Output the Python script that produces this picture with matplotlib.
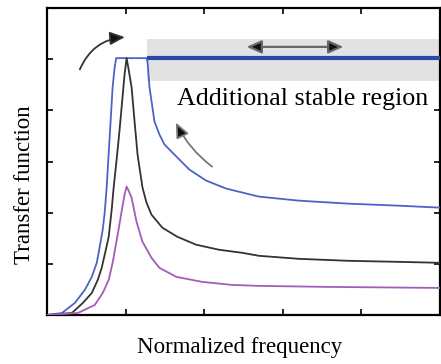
import matplotlib
matplotlib.use("Agg")
import matplotlib.pyplot as plt
from matplotlib.patches import FancyArrowPatch

# ---- data ----
blue_x = [0.0, 0.190, 0.354, 0.481, 0.570, 0.633, 0.671, 0.709, 0.734, 0.759, 0.778, 0.797, 0.816, 0.835, 0.861, 0.880,
          1.266, 1.278, 1.304, 1.367, 1.430, 1.494, 1.658, 1.810, 2.025, 2.278, 2.696, 3.203, 3.835, 4.468, 5.0]
blue_y = [0.0, 0.039, 0.235, 0.490, 0.745, 1.020, 1.333, 1.667, 2.000, 2.490, 2.980, 3.471, 3.961, 4.451, 4.843, 5.020,
          5.020, 4.961, 4.451, 3.784, 3.529, 3.333, 3.078, 2.843, 2.627, 2.471, 2.314, 2.235, 2.176, 2.137, 2.098]

black_x = [0.0, 0.316, 0.456, 0.570, 0.646, 0.696, 0.734, 0.785, 0.823, 0.848, 0.886, 0.924, 0.962, 0.987, 1.013,
           1.038, 1.076, 1.114, 1.152, 1.215, 1.266, 1.329, 1.468, 1.658, 1.899, 2.190, 2.481, 2.696, 3.203, 3.835, 4.468, 5.0]
black_y = [0.0, 0.039, 0.235, 0.431, 0.686, 0.922, 1.176, 1.529, 2.059, 2.490, 3.039, 3.627, 4.275, 4.706, 5.020,
           4.804, 4.451, 3.784, 3.137, 2.490, 2.196, 1.961, 1.706, 1.529, 1.373, 1.275, 1.216, 1.157, 1.098, 1.059, 1.039, 1.020]

purple_x = [0.0, 0.392, 0.608, 0.709, 0.785, 0.835, 0.899, 0.949, 0.987, 1.013,
            1.038, 1.076, 1.139, 1.215, 1.329, 1.430, 1.646, 1.975, 2.354, 2.696, 3.582, 5.0]
purple_y = [0.0, 0.039, 0.196, 0.431, 0.686, 1.020, 1.569, 2.020, 2.353, 2.510,
            2.431, 2.294, 1.824, 1.431, 1.118, 0.922, 0.745, 0.647, 0.588, 0.569, 0.549, 0.529]

stable_level = 5.02
stable_start = 1.266
band_low, band_high = 4.57, 5.39

xticks = [1, 2, 3, 4]
yticks = [1, 2, 3, 4, 5]

annotation_text = "Additional stable region"
xlabel = "Normalized frequency"
ylabel = "Transfer function"

# ---- figure ----
fig = plt.figure(figsize=(4.41, 3.64), dpi=100)
ax = fig.add_axes([47/441, 49/364, 393/441, 307/364])
ax.set_xlim(0, 5)
ax.set_ylim(0, 6)

ax.axhspan(band_low, band_high, xmin=stable_start/5, xmax=1, color="#e2e2e2", lw=0, zorder=1)

ax.plot(blue_x, blue_y, color="#4d63c9", lw=1.3, zorder=3)
ax.plot(black_x, black_y, color="#333333", lw=1.3, zorder=3)
ax.plot(purple_x, purple_y, color="#a35cb8", lw=1.3, zorder=3)
ax.plot([stable_start, 5], [stable_level, stable_level], color="#2a48a8", lw=3.0, zorder=4, solid_capstyle="butt")

serif = ["Liberation Serif", "DejaVu Serif"]
ax.text(1.66, 4.22, annotation_text, fontsize=18.7, family=serif, ha="left", va="center", zorder=5)

# arrows
a1 = FancyArrowPatch((0.418, 4.80), (0.99, 5.43), connectionstyle="arc3,rad=-0.3",
                     arrowstyle="-|>,head_length=9,head_width=4", edgecolor="#333333", facecolor="#111111",
                     lw=1.3, zorder=5, shrinkA=0, shrinkB=0)
ax.add_patch(a1)
a2 = FancyArrowPatch((2.10, 2.90), (1.64, 3.76), connectionstyle="arc3,rad=-0.12",
                     arrowstyle="-|>,head_length=9,head_width=4", edgecolor="#777777", facecolor="#111111",
                     lw=1.3, zorder=5, shrinkA=0, shrinkB=0)
ax.add_patch(a2)
a3 = FancyArrowPatch((2.54, 5.24), (3.77, 5.24), arrowstyle="<|-|>,head_length=9,head_width=4",
                     edgecolor="#666666", facecolor="#111111", lw=1.6, zorder=5, shrinkA=0, shrinkB=0)
ax.add_patch(a3)

ax.set_xticks(xticks)
ax.set_yticks(yticks)
ax.tick_params(direction="in", length=4, width=1.2, top=True, right=True,
               labelbottom=False, labelleft=False)
for s in ax.spines.values():
    s.set_linewidth(1.6)

fig.text(240/441, 1 - 347/364, xlabel, fontsize=16.5, family=serif, ha="center", va="center")
fig.text(25/441, 1 - 185/364, ylabel, fontsize=16.5, family=serif, ha="center", va="center", rotation=90)

fig.savefig("out.png", dpi=100)
